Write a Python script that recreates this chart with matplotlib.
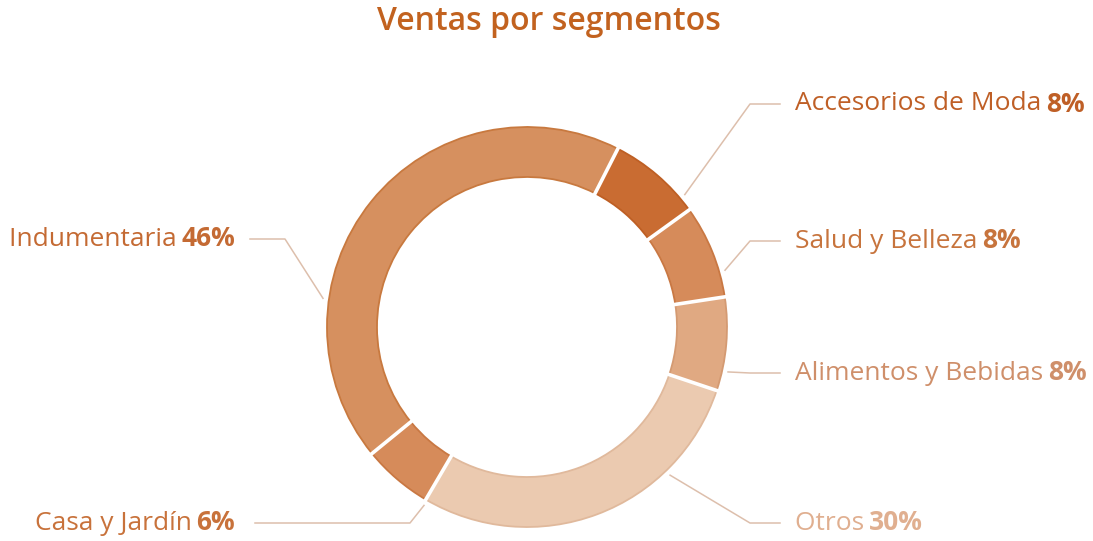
import numpy as np
import matplotlib
matplotlib.use('Agg')
import matplotlib.pyplot as plt

plt.rcParams['font.family'] = ['Open Sans', 'DejaVu Sans']

# sales share per segment, clockwise from the top
segments = ['Accesorios de Moda', 'Salud y Belleza', 'Alimentos y Bebidas',
            'Otros', 'Casa y Jardín', 'Indumentaria']
shares = [8, 8, 8, 30, 6, 46]

fill_colors = ['#C96C32', '#D68B5A', '#E0A982', '#EBCAB0', '#D68B5A', '#D6905F']
edge_colors = ['#BE5F24', '#C97843', '#D49A72', '#E0B99C', '#C97843', '#C8793F']
text_colors = ['#BF5F26', '#C7743D', '#CF8F6A', '#E0AF90', '#C8723B', '#C46A33']

# label layout (y measured up from the bottom edge)
anchor_deg = [40, 16, -12.6, -46, -120, 172]
label_y = [437, 300, 168, 18, 18, 302]
elbow_x = [750, 750, 750, 750, 410, 285]
end_x = [780, 780, 780, 780, 255, 250]
text_x = [795, 795, 795, 795, 235, 235]

W, H = 1093, 541
cx, cy, R = 527, 214, 200
ring_w = 50

fig = plt.figure(figsize=(W / 100, H / 100), dpi=100)
ax = fig.add_axes([0, 0, 1, 1])

wedges, _ = ax.pie(shares, colors=fill_colors, startangle=63, counterclock=False,
                   center=(cx, cy), radius=R,
                   wedgeprops=dict(width=ring_w, linewidth=1.3))
for w, ec in zip(wedges, edge_colors):
    w.set_edgecolor(ec)

ax.set_xlim(0, W)
ax.set_ylim(0, H)
ax.set_aspect('equal')
ax.axis('off')

# white gaps between segments
for w in wedges:
    t = np.deg2rad(w.theta1)
    r = np.array([R - ring_w - 2, R + 2])
    ax.plot(cx + r * np.cos(t), cy + r * np.sin(t), color='white', lw=2.6,
            solid_capstyle='butt', zorder=5)

fig.canvas.draw()
rend = fig.canvas.get_renderer()
for i, name in enumerate(segments):
    a = np.deg2rad(anchor_deg[i])
    sx = cx + 206 * np.cos(a)
    sy = cy + 206 * np.sin(a)
    ax.plot([sx, elbow_x[i], end_x[i]], [sy, label_y[i], label_y[i]],
            color='#DDBFAC', lw=1.1, zorder=1)
    t1 = ax.text(text_x[i], label_y[i], name + ' ', fontsize=19,
                 color=text_colors[i], va='center', ha='left')
    bb = t1.get_window_extent(rend).transformed(ax.transData.inverted())
    t2 = ax.text(bb.x1 - 2, label_y[i], f'{shares[i]}%', fontsize=19, fontweight='bold',
                 color=text_colors[i], va='center', ha='left')
    if text_x[i] < cx:
        bb2 = t2.get_window_extent(rend).transformed(ax.transData.inverted())
        shift = bb2.x1 - text_x[i]
        t1.set_x(t1.get_position()[0] - shift)
        t2.set_x(t2.get_position()[0] - shift)

ax.text(549, H - 22, 'Ventas por segmentos', ha='center', va='center', fontsize=23,
        fontweight='semibold', color='#C2621F')

fig.savefig('out.png', dpi=100)
